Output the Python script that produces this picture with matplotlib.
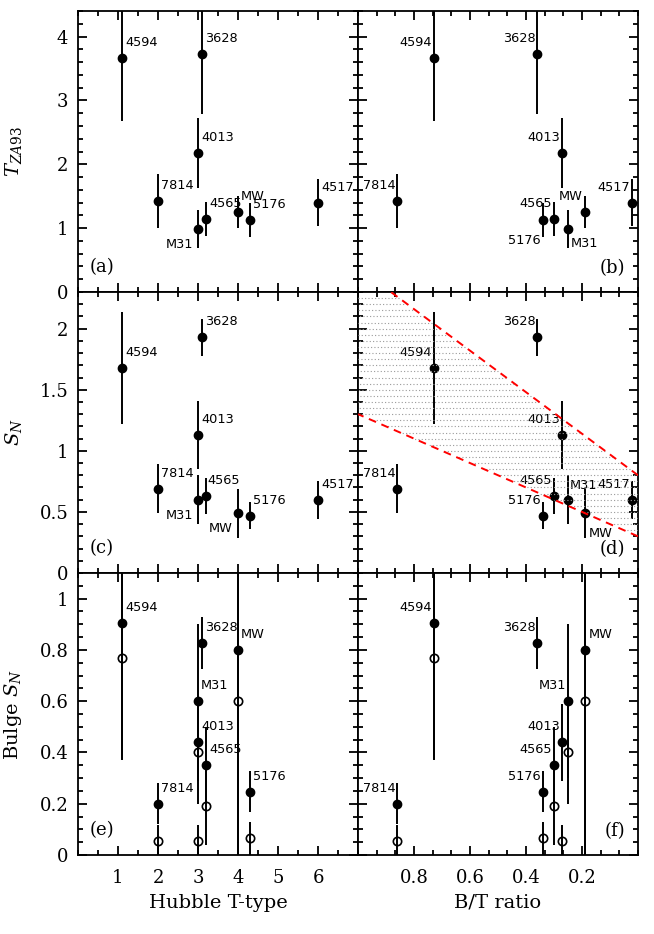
import numpy as np
import matplotlib
matplotlib.use('Agg')
import matplotlib.pyplot as plt
from matplotlib.ticker import AutoMinorLocator, FixedLocator, FuncFormatter, MultipleLocator

nan = np.nan

# galaxies, in the same order in every array
names = ['4594', '7814', '3628', '4013', 'M31', '4565', 'MW', '5176', '4517']
ttype = [1.1, 2.0, 3.1, 3.0, 3.0, 3.2, 4.0, 4.3, 6.0]
bt_ratio = [0.73, 0.86, 0.36, 0.27, 0.25, 0.30, 0.19, 0.34, 0.02]

t_za93 = [3.66, 1.42, 3.72, 2.18, 0.99, 1.14, 1.25, 1.13, 1.40]
t_za93_err = [0.98, 0.42, 0.94, 0.55, 0.30, 0.27, 0.25, 0.27, 0.37]

s_n = [1.68, 0.69, 1.93, 1.13, 0.60, 0.63, 0.49, 0.47, 0.60]
s_n_err = [0.46, 0.20, 0.15, 0.28, 0.20, 0.15, 0.20, 0.11, 0.155]

bulge_sn = [0.905, 0.20, 0.827, 0.44, 0.60, 0.35, 0.80, 0.247, nan]
bulge_sn_err = [0.53, 0.08, 0.10, 0.15, 0.30, 0.15, 0.80, 0.08, nan]
bulge_sn_open = [0.77, 0.056, nan, 0.056, 0.40, 0.19, 0.60, 0.065, nan]
bulge_sn_open_err = [0.40, 0.06, nan, 0.06, 0.20, 0.15, 0.60, 0.065, nan]

# bounds of the shaded band in panel (d): S_N = a + b * B/T
band_lower = (0.30, 1.00)
band_upper = (0.80, 1.70)

plt.rcParams['mathtext.fontset'] = 'dejavuserif'
plt.rcParams['font.family'] = 'DejaVu Serif'

fig = plt.figure(figsize=(6.54, 9.34), dpi=100)
W, H = 654., 934.
lefts = [78 / W, 358 / W]
rows = [(11, 292), (292, 573), (573, 855)]
axes = [[None, None] for _ in rows]
for i, (top, bot) in enumerate(rows):
    for j in range(2):
        axes[i][j] = fig.add_axes([lefts[j], (H - bot) / H, 280 / W, (bot - top) / H])

fmt = FuncFormatter(lambda v, p: '%g' % round(v, 3))
ylims = [(0, 4.4), (0, 2.3), (0, 1.1)]
ymaj = [1, 0.5, 0.2]
ymin = [5, 5, 4]
ylabels = [r'$T_{ZA93}$', r'$S_N$', r'Bulge $S_N$']
letters = [['(a)', '(b)'], ['(c)', '(d)'], ['(e)', '(f)']]

for i in range(3):
    for j in range(2):
        ax = axes[i][j]
        ax.set_ylim(*ylims[i])
        ax.yaxis.set_major_locator(MultipleLocator(ymaj[i]))
        ax.yaxis.set_minor_locator(AutoMinorLocator(ymin[i]))
        if j == 0:
            ax.set_xlim(0, 7)
            ax.xaxis.set_major_locator(FixedLocator([1, 2, 3, 4, 5, 6]))
            ax.xaxis.set_minor_locator(AutoMinorLocator(2))
        else:
            ax.set_xlim(1.0, 0.0)
            ax.xaxis.set_major_locator(FixedLocator([0.8, 0.6, 0.4, 0.2]))
            ax.xaxis.set_minor_locator(AutoMinorLocator(3))
        ax.tick_params(which='both', direction='in', top=True, right=True,
                       width=1.3, labelsize=13)
        ax.tick_params(which='major', length=6.5)
        ax.tick_params(which='minor', length=3.5)
        ax.tick_params(axis='y', pad=7)
        ax.tick_params(axis='x', pad=10)
        for s in ax.spines.values():
            s.set_linewidth(1.3)
        ax.yaxis.set_major_formatter(fmt)
        ax.xaxis.set_major_formatter(fmt)
        if i < 2:
            ax.tick_params(labelbottom=False)
        if j == 1:
            ax.tick_params(labelleft=False)
        else:
            ax.set_ylabel(ylabels[i], fontsize=14, va='center')
            ax.yaxis.set_label_coords(-0.232, 0.5)
        if j == 0:
            ax.text(0.043, 0.09, letters[i][j], transform=ax.transAxes,
                    fontsize=13, ha='left', va='center')
        else:
            ax.text(0.955, 0.085, letters[i][j], transform=ax.transAxes,
                    fontsize=13, ha='right', va='center')

axes[2][0].set_xlabel('Hubble T-type', fontsize=14, va='center')
axes[2][1].set_xlabel('B/T ratio', fontsize=14, va='center')
for ax in axes[2]:
    ax.xaxis.set_label_coords(0.5, -0.17)

mk = dict(fmt='o', color='black', ms=6, elinewidth=1.4, capsize=0)

# label placement (pixel offset, ha, va) per panel
left_up = (3, 9, 'left', 'bottom')
right_up = (-2, 9, 'right', 'bottom')
place = {
    (0, 0): {'default': left_up, 'M31': (-5, -9, 'right', 'top')},
    (0, 1): {'default': right_up, '5176': (-2, -14, 'right', 'top'),
             'M31': (3, -8, 'left', 'top')},
    (1, 0): {'default': left_up, 'M31': (-5, -9, 'right', 'top'),
             'MW': (-5, -9, 'right', 'top'), '4565': (1, 9, 'left', 'bottom')},
    (1, 1): {'default': right_up, 'M31': (2, 8, 'left', 'bottom'),
             'MW': (4, -14, 'left', 'top')},
    (2, 0): {'default': left_up},
    (2, 1): {'default': right_up, 'MW': (4, 9, 'left', 'bottom')},
}

series = [(t_za93, t_za93_err), (s_n, s_n_err), (bulge_sn, bulge_sn_err)]
for i in range(3):
    for j, xs in enumerate([ttype, bt_ratio]):
        ax = axes[i][j]
        y, e = series[i]
        ax.errorbar(xs, y, yerr=e, **mk)
        if i == 2:
            ax.errorbar(xs, bulge_sn_open, yerr=bulge_sn_open_err, mfc='none',
                        mec='black', mew=1.2, **mk)
        for k, name in enumerate(names):
            if np.isnan(y[k]):
                continue
            dx, dy, ha, va = place[(i, j)].get(name, place[(i, j)]['default'])
            ax.annotate(name, (xs[k], y[k]), xytext=(dx, dy),
                        textcoords='offset pixels', ha=ha, va=va,
                        fontsize=9.3, family='DejaVu Sans')

# shaded band and its dashed bounds in panel (d)
ax = axes[1][1]
for lev in np.arange(0.30, 2.30, 0.05):
    x_hi = min(1.0, (lev - band_lower[0]) / band_lower[1])
    x_lo = max(0.0, (lev - band_upper[0]) / band_upper[1])
    if x_hi > x_lo:
        ax.plot([x_lo, x_hi], [lev, lev], color='#9a9a9a', lw=0.8,
                ls=(0, (1, 2)), zorder=4)
xx = np.array([0.0, 1.0])
for a, b in [band_lower, band_upper]:
    ax.plot(xx, a + b * xx, color='red', lw=1.4, ls=(0, (4, 3)), zorder=5)

fig.savefig('out.png', dpi=100)
